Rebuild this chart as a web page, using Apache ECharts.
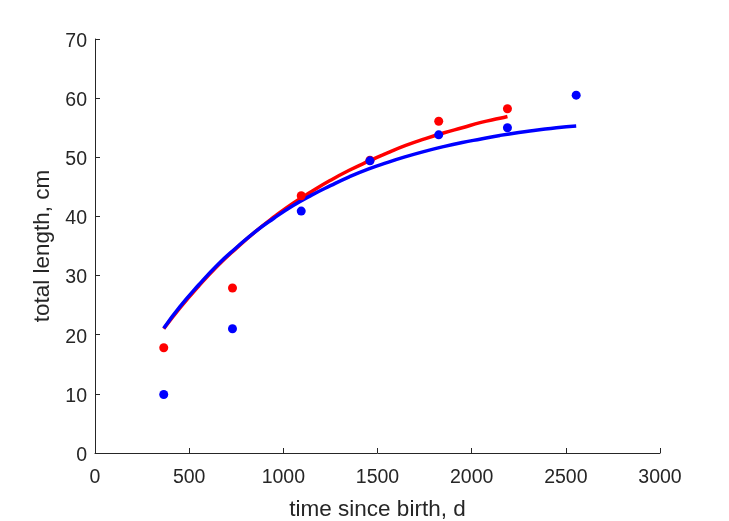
<!DOCTYPE html>
<html>
<head>
<meta charset="utf-8">
<script src="https://cdn.jsdelivr.net/npm/echarts@6/dist/echarts.min.js"></script>
<style>
html,body{margin:0;padding:0;background:#fff;}
#c{width:729px;height:521px;}
</style>
</head>
<body>
<div id="c"></div>
<script>
// Observed data (days since birth, total length cm)
var redObsT = [365, 730, 1095, 1460, 1825, 2190];
var redObsL = [17.8, 27.9, 43.5, 49.5, 56.1, 58.2];
var blueObsT = [365, 730, 1095, 1460, 1825, 2190, 2555];
var blueObsL = [9.9, 21.0, 40.9, 49.4, 53.8, 55.0, 60.5];

// Fitted curves
var redFitT = [365, 450, 550, 650, 750, 850, 950, 1050, 1150, 1250, 1350, 1450, 1550, 1650, 1750, 1850, 1950, 2050, 2150, 2190];
var redFitL = [21.0, 24.5, 28.2, 31.6, 34.6, 37.4, 39.9, 42.2, 44.2, 46.1, 47.8, 49.3, 50.7, 52.0, 53.1, 54.1, 55.0, 55.9, 56.6, 56.9];
var blueFitT = [365, 450, 550, 650, 750, 850, 950, 1050, 1150, 1250, 1350, 1450, 1550, 1650, 1750, 1850, 1950, 2050, 2150, 2250, 2350, 2450, 2555];
var blueFitL = [21.1, 24.7, 28.4, 31.8, 34.7, 37.4, 39.7, 41.8, 43.6, 45.2, 46.7, 48.0, 49.1, 50.1, 51.0, 51.8, 52.5, 53.1, 53.7, 54.2, 54.6, 55.0, 55.3];

var xTitle = 'time since birth, d';
var yTitle = 'total length, cm';

function zip(a, b){ return a.map(function(v,i){ return [v, b[i]]; }); }

var axisColor = '#262626';
var font = 'Liberation Sans, Arial, Helvetica, sans-serif';

var chart = echarts.init(document.getElementById('c'), null, {renderer:'canvas'});
chart.setOption({
  animation: false,
  backgroundColor: '#fff',
  grid: {left: 95, right: 69, top: 39, bottom: 68, containLabel: false, outerBoundsMode: 'none'},
  xAxis: {
    type: 'value', min: 0, max: 3000, interval: 500,
    name: xTitle, nameLocation: 'middle', nameGap: 45,
    nameTextStyle: {fontSize: 22.5, color: axisColor, fontFamily: font},
    axisLine: {show: true, onZero: false, lineStyle: {color: axisColor, width: 1}},
    axisTick: {show: true, inside: true, length: 5, lineStyle: {color: axisColor}},
    axisLabel: {fontSize: 19.5, color: axisColor, fontFamily: font, margin: 15,
      formatter: function(v){ return String(v); }},
    splitLine: {show: false}
  },
  yAxis: {
    type: 'value', min: 0, max: 70, interval: 10,
    name: yTitle, nameLocation: 'middle', nameGap: 33, nameRotate: 90,
    nameTextStyle: {fontSize: 22.5, color: axisColor, fontFamily: font},
    axisLine: {show: true, onZero: false, lineStyle: {color: axisColor, width: 1}},
    axisTick: {show: true, inside: true, length: 5, lineStyle: {color: axisColor}},
    axisLabel: {color: axisColor, fontFamily: font, margin: 8,
      formatter: function(v){ return '{a|' + v + '}'; },
      rich: {a: {fontSize: 19.5, color: axisColor, fontFamily: font, padding: [5, 0, 0, 0]}}},
    splitLine: {show: false}
  },
  series: [
    {type: 'line', data: zip(redFitT, redFitL), smooth: true, showSymbol: false, symbol: 'none',
     lineStyle: {color: '#FF0000', width: 3.5}, z: 2},
    {type: 'line', data: zip(blueFitT, blueFitL), smooth: true, showSymbol: false, symbol: 'none',
     lineStyle: {color: '#0000FF', width: 3.5}, z: 3},
    {type: 'scatter', data: zip(redObsT, redObsL), symbol: 'circle', symbolSize: 9,
     itemStyle: {color: '#FF0000', opacity: 1}, z: 4},
    {type: 'scatter', data: zip(blueObsT, blueObsL), symbol: 'circle', symbolSize: 9,
     itemStyle: {color: '#0000FF', opacity: 1}, z: 5}
  ]
});
</script>
</body>
</html>
